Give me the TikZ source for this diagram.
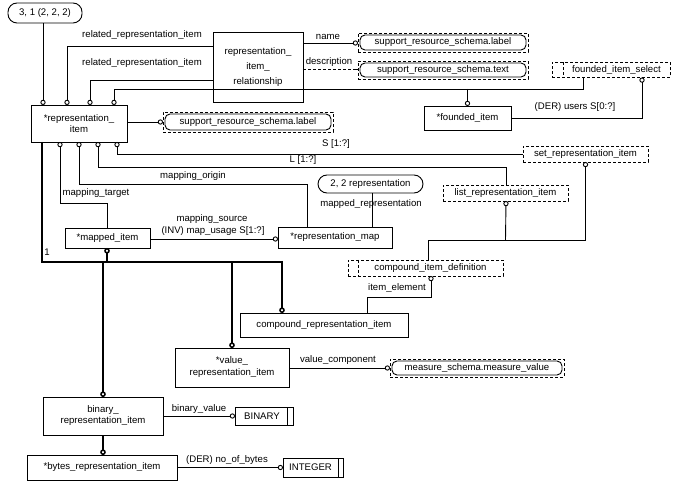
\documentclass[tikz,border=0pt]{standalone}
\usepackage{fontspec}
\setmainfont{Liberation Sans}
\usetikzlibrary{arrows.meta,calc}
\begin{document}
\begin{tikzpicture}[x=1pt,y=-1pt,
  every node/.style={font=\fontsize{9.6}{11}\selectfont, inner sep=0pt, outer sep=0pt},
  ln/.style={line width=0.9pt},
  thk/.style={line width=2.2pt},
  dsh/.style={dash pattern=on 3pt off 2pt},
  ent/.style={draw, ln, align=center},
  sel/.style={draw, ln, dsh, align=center},
  refbox/.style={draw, ln, rounded corners=9pt, align=center},
  oc/.style={ln, -{Circle[open,length=5.2pt,width=5.2pt,line width=0.9pt]}},
  toc/.style={thk, -{Circle[open,length=5.6pt,width=5.6pt,line width=1.5pt]}},
  lab/.style={align=center}
]
\useasboundingbox (0,0) rectangle (677,486);

% ---------- boxes ----------
\node[refbox, minimum width=74, minimum height=20] (ref1) at (45,13) {3, 1 (2, 2, 2)};
\node[ent, minimum width=96, minimum height=37] (ri) at (79,123.5) {*representation\_\\[0pt]item};
\node[ent, minimum width=90, minimum height=70] (rir) at (258,67) {representation\_\\[4pt]item\_\\[4pt]relationship};
\node[sel, minimum width=170, minimum height=19] (srs1) at (443,42.5) {support\_resource\_schema.label};
\node[sel, minimum width=170, minimum height=18] (srs2) at (443,70) {support\_resource\_schema.text};
\node[sel, minimum width=118, minimum height=15] (fis) at (611,70) {\hspace*{11pt}founded\_item\_select};
\node[ent, minimum width=87, minimum height=24] (fi) at (467.5,118) {*founded\_item};
\node[sel, minimum width=170, minimum height=20] (srs3) at (248,122) {support\_resource\_schema.label};
\node[sel, minimum width=125, minimum height=16] (sri) at (585.5,154) {set\_representation\_item};
\node[sel, minimum width=125, minimum height=16] (lri) at (505.5,193) {list\_representation\_item};
\node[refbox, minimum width=105, minimum height=18] (ref2) at (370.5,184) {2, 2 representation};
\node[ent, minimum width=85, minimum height=20] (mi) at (107.5,238) {*mapped\_item};
\node[ent, minimum width=114, minimum height=21] (rm) at (335,237.5) {*representation\_map};
\node[sel, minimum width=155, minimum height=16] (cid) at (425.5,268) {\hspace*{10pt}compound\_item\_definition};
\node[ent, minimum width=168, minimum height=24] (cri) at (324,325) {compound\_representation\_item};
\node[ent, minimum width=114, minimum height=39] (vri) at (232,367.5) {*value\_\\[1pt]representation\_item};
\node[sel, minimum width=174, minimum height=18] (msmv) at (477,368) {measure\_schema.measure\_value};
\node[ent, minimum width=120, minimum height=38] (bri) at (103,416) {binary\_\\[0pt]representation\_item};
\node[ent, minimum width=58, minimum height=18] (bin) at (264,416) {\hspace*{-4pt}BINARY};
\node[ent, minimum width=150, minimum height=25] (bytes) at (102,467.5) {*bytes\_representation\_item};
\node[ent, minimum width=60, minimum height=19] (int) at (313,467.5) {\hspace*{-5pt}INTEGER};

% inner decorations
\foreach \n in {srs1,srs2,srs3,msmv}{
  \draw[ln, rounded corners=5pt] ($(\n.north west)+(2,2)$) rectangle ($(\n.south east)+(-2,-2)$);
}
\draw[ln, dsh] ($(fis.north west)+(11,0)$) -- ($(fis.south west)+(11,0)$);
\draw[ln, dsh] ($(cid.north west)+(10,0)$) -- ($(cid.south west)+(10,0)$);
\draw[ln] ($(bin.north east)+(-6,0)$) -- ($(bin.south east)+(-6,0)$);
\draw[ln] ($(int.north east)+(-5,0)$) -- ($(int.south east)+(-5,0)$);

% helper coordinates
\coordinate (x43) at (43,0);
\coordinate (x67) at (67,0);
\coordinate (x90) at (90,0);
\coordinate (x114) at (114,0);
\coordinate (x60) at (60,0);
\coordinate (x79) at (79,0);
\coordinate (x98) at (98,0);
\coordinate (x117) at (117,0);

% ---------- connectors ----------
\draw[oc] (ref1.south -| x43) -- (ri.north -| x43);
\draw[oc] (rir.west |- 0,46) -| (ri.north -| x67);
\draw[oc] (rir.west |- 0,80) -| (ri.north -| x90);
\coordinate (fj) at (583,89);
\draw[oc] (fis.south -| fj) -- (fj) -| (ri.north -| x114);
\draw[oc] (fi.north |- fj) -- (fi.north);
\draw[oc] (fi.east) -| ($(fis.south)+(31,0)$);
\draw[oc] (rir.east |- 0,43) -- (srs1.west |- 0,43);
\draw[ln, dsh] (rir.east |- 0,69) -- (srs2.west |- 0,69);
\draw[ln] ($(srs2.west |- 0,69)+(-3,0)$) -- (srs2.west |- 0,69);
\draw[oc] (ri.east |- srs3.west) -- (srs3.west);
\draw[oc] (sri.west) -| (ri.south -| x117);
\coordinate (lt) at ($(lri.north)+(0.5,0)$);
\draw[oc] (lt) -- (lt |- 0,167) -- (x98 |- 0,167) -- (ri.south -| x98);
\coordinate (rt) at ($(rm.north)+(-28,0)$);
\draw[oc] (rt) -- (rt |- 0,184) -- (x79 |- 0,184) -- (ri.south -| x79);
\draw[oc] (mi.north -| 107,0) -- (107,203) -- (60,203) -- (ri.south -| x60);
\draw[oc] (mi.east |- 0,239) -- (rm.west |- 0,239);
\draw[ln] (ref2.south -| 372,0) -- (rm.north -| 372,0);
\coordinate (cj) at (428,240);
\draw[ln] (cid.north -| cj) -- (cj);
\draw[oc] (cj) -| (sri.south);
\draw[oc] (lri.south |- cj) -- ($(lri.south)+(0.5,0)$);
\draw[oc] (cri.north -| 367,0) -- (367,297) -- (431,297) -- (cid.south -| 431,0);
\draw[oc] (vri.east |- msmv.west) -- (msmv.west);
\draw[oc] (bri.east |- bin.west) -- (bin.west);
\draw[oc] (bytes.east) -- (int.west);

% subtype tree
\draw[thk] (ri.south -| 42,0) -- (42,262) -- (282,262);
\draw[toc] (282,261) -- (cri.north -| 282,0);
\draw[toc] (107,262) -- (mi.south -| 107,0);
\draw[toc] (232,262) -- (vri.north);
\draw[toc] (103,262) -- (bri.north);
\draw[toc] (bri.south) -- (bytes.north -| bri.south);

% ---------- labels ----------
\node[lab] (l1) at (142,35) {related\_representation\_item};
\node[lab] (l2) at (142,63) {related\_representation\_item};
\node[lab] (l3) at (328,37) {name};
\node[lab] (l4) at (329,62) {description};
\node[lab] (l5) at (575,107) {(DER) users S[0:?]};
\node[lab] (l6) at (336,144) {S [1:?]};
\node[lab] (l7) at (303,160) {L [1:?]};
\node[lab] (l8) at (193,176) {mapping\_origin};
\node[lab] (l9) at (96,193) {mapping\_target};
\node[lab] (l10) at (212,219) {mapping\_source};
\node[lab] (l11) at (213,231) {(INV) map\_usage S[1:?]};
\node[lab] (l12) at (371,204) {mapped\_representation};
\node[lab] (l13) at (397,288) {item\_element};
\node[lab] (l14) at (338,360) {value\_component};
\node[lab] (l15) at (199,409) {binary\_value};
\node[lab] (l16) at (227,460) {(DER) no\_of\_bytes};
\node[lab] (l17) at (47,252) {1};
\end{tikzpicture}
\end{document}
